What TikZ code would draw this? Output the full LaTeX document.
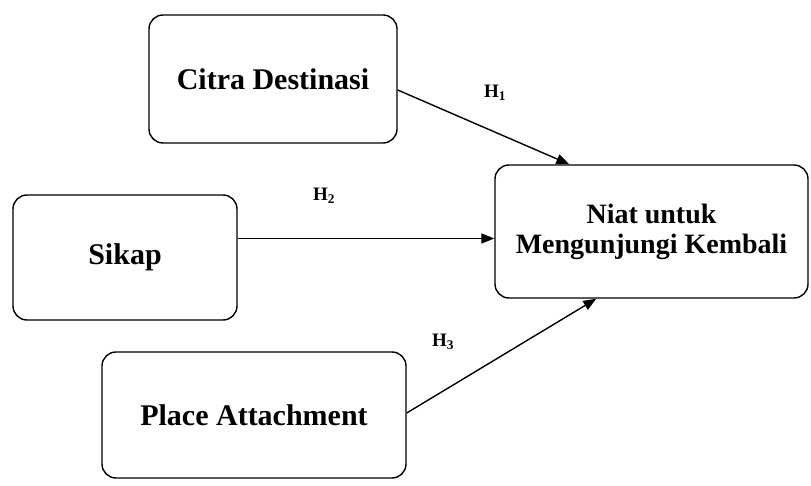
\documentclass[tikz,border=0pt]{standalone}
\usepackage{fontspec}
\setmainfont{Liberation Serif}
\usetikzlibrary{arrows.meta}

\tikzset{
  varbox/.style={draw, rounded corners=14pt, line width=1.4pt, align=center,
    font=\fontsize{30}{32}\selectfont\bfseries},
  hlabel/.style={font=\fontsize{19}{21}\selectfont\bfseries},
  path/.style={line width=1.4pt, -{Triangle[length=13pt,width=10pt]}}
}

\begin{document}
\begin{tikzpicture}[x=1pt, y=1pt]
    \useasboundingbox (0,0) rectangle (811,-486);

    % Variables
    \node[varbox, minimum width=248pt, minimum height=128pt] (citra) at (273,-79) {\raisebox{-11pt}{Citra Destinasi}};
    \node[varbox, minimum width=224pt, minimum height=125pt] (sikap) at (125,-257.5) {Sikap};
    \node[varbox, minimum width=304pt, minimum height=126pt] (place) at (254,-415) {\raisebox{-11pt}{Place Attachment}};
    \node[varbox, minimum width=313pt, minimum height=133pt,
          font=\fontsize{28}{30}\selectfont\bfseries] (niat) at (651.5,-231.5) {Niat untuk\\Mengunjungi Kembali};

    % Hypotheses
    \draw[path] ([yshift=-11pt]citra.east) -- ([xshift=75pt]niat.north west);
    \draw[path] ([yshift=19pt]sikap.east) -- ([yshift=19pt]sikap.east -| niat.west);
    \draw[path] ([yshift=2pt]place.east) -- ([xshift=102pt]niat.south west);

    \node[hlabel] (h1) at (495,-93) {H\textsubscript{1}};
    \node[hlabel] (h2) at (324,-196) {H\textsubscript{2}};
    \node[hlabel] (h3) at (443,-342) {H\textsubscript{3}};
\end{tikzpicture}
\end{document}
